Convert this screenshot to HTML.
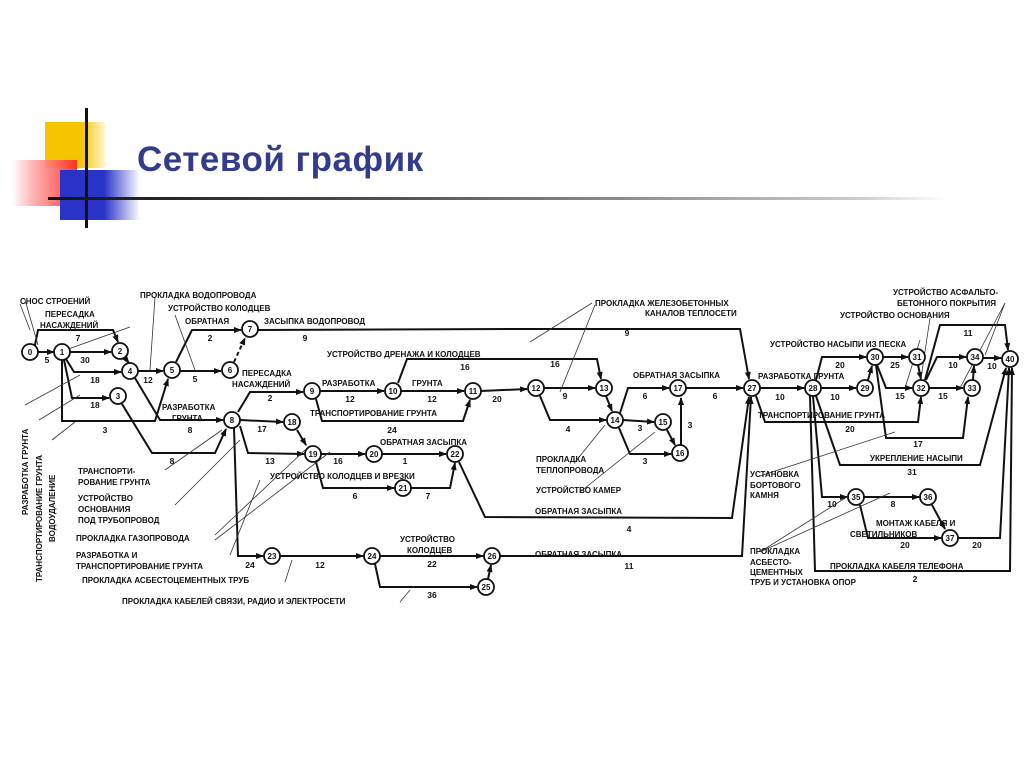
<!DOCTYPE html>
<html><head><meta charset="utf-8">
<style>
html,body{margin:0;padding:0;background:#fff;}
body{width:1024px;height:767px;position:relative;overflow:hidden;font-family:"Liberation Sans","DejaVu Sans",sans-serif;}
.t{position:absolute;left:137px;top:140px;font-size:35px;font-weight:bold;color:#333c8c;letter-spacing:0.5px;}
svg text{font-family:"Liberation Sans","DejaVu Sans",sans-serif;font-weight:bold;fill:#111;}
</style></head><body>
<div style="position:absolute;left:45px;top:122px;width:60px;height:46px;background:linear-gradient(to right,#f6c400 60%,#fff7d0);"></div>
<div style="position:absolute;left:12px;top:160px;width:65px;height:46px;background:linear-gradient(to right,#fff 0%,#ffb0b0 30%,#f22 100%);opacity:0.9;"></div>
<div style="position:absolute;left:60px;top:170px;width:80px;height:50px;background:linear-gradient(to right,#2a33c8 55%,#fff);"></div>
<div style="position:absolute;left:85px;top:108px;width:3px;height:120px;background:#111;"></div>
<div style="position:absolute;left:48px;top:197px;width:900px;height:3px;background:linear-gradient(to right,#111,#555 40%,#ccc 90%,#fff);"></div>
<div class="t">Сетевой график</div>

<svg width="1024" height="767" style="position:absolute;left:0;top:0" xmlns="http://www.w3.org/2000/svg">
<defs><marker id="a" markerWidth="8" markerHeight="8" refX="7" refY="4" orient="auto" markerUnits="userSpaceOnUse"><path d="M0,1 L8,4 L0,7z" fill="#111"/></marker></defs>
<g fill="none" stroke="#111" stroke-width="2" marker-end="url(#a)">
<path d="M38,352 L54,352"/>
<path d="M35,345 L38,330 L113,330 L118,342"/>
<path d="M70,352 L111,352"/>
<path d="M66,359 L74,372 L121,372"/>
<path d="M64,360 L72,398 L109,398"/>
<path d="M62,360 L62,421 L155,421 L168,379"/>
<path d="M125,358 L129,363"/>
<path d="M138,371 L163,371"/>
<path d="M135,378 L160,420 L223,420"/>
<path d="M122,404 L152,453 L215,453 L226,429"/>
<path d="M176,362 L192,330 L241,330"/>
<path d="M180,371 L221,371"/>
<path d="M234,362 L245,338" stroke-dasharray="4,3"/>
<path d="M258,330 L515,329 L740,329 L749,379"/>
<path d="M238,412 L250,392 L303,392"/>
<path d="M320,391 L384,391"/>
<path d="M401,391 L464,391"/>
<path d="M316,399 L322,421 L463,421 L470,400"/>
<path d="M398,383 L407,359 L597,359 L601,379"/>
<path d="M481,391 L527,389"/>
<path d="M544,388 L595,388"/>
<path d="M540,396 L550,420 L606,420"/>
<path d="M606,396 L612,411"/>
<path d="M620,413 L628,388 L669,388"/>
<path d="M623,420 L654,422"/>
<path d="M619,428 L630,454 L671,454"/>
<path d="M667,430 L675,445"/>
<path d="M681,445 L681,398"/>
<path d="M686,388 L743,388"/>
<path d="M459,462 L485,517 L732,518 L749,397"/>
<path d="M500,556 L742,556 L751,397"/>
<path d="M240,420 L283,422"/>
<path d="M297,430 L306,445"/>
<path d="M240,426 L248,453 L304,454"/>
<path d="M321,454 L365,454"/>
<path d="M382,454 L446,454"/>
<path d="M316,462 L323,488 L394,488"/>
<path d="M411,488 L450,488 L455,463"/>
<path d="M234,428 L238,556 L263,556"/>
<path d="M280,556 L363,556"/>
<path d="M380,556 L483,556"/>
<path d="M375,564 L380,587 L477,587"/>
<path d="M488,579 L491,565"/>
<path d="M760,388 L804,388"/>
<path d="M821,388 L856,388"/>
<path d="M816,380 L822,357 L866,357"/>
<path d="M868,380 L872,366"/>
<path d="M883,357 L908,357"/>
<path d="M877,365 L886,388 L912,388"/>
<path d="M918,365 L921,379"/>
<path d="M926,380 L937,357 L966,357"/>
<path d="M929,388 L963,388"/>
<path d="M973,380 L974,366"/>
<path d="M983,358 L1001,358"/>
<path d="M925,380 L940,325 L1005,325 L1008,350"/>
<path d="M756,396 L765,422 L918,422 L921,397"/>
<path d="M876,365 L886,438 L963,438 L968,397"/>
<path d="M816,396 L840,465 L980,465 L1006,368"/>
<path d="M813,396 L822,497 L847,497"/>
<path d="M864,497 L919,497"/>
<path d="M860,505 L868,538 L941,538"/>
<path d="M932,505 L945,529"/>
<path d="M958,538 L1000,538 L1009,368"/>
<path d="M810,396 L815,571 L1010,571 L1012,368"/>
</g>
<g fill="none" stroke="#333" stroke-width="0.8">
<path d="M25,300 L38,345 M20,304 L30,330 M130,327 L60,352"/>
<path d="M155,297 L150,370 M175,315 L195,370"/>
<path d="M25,405 L80,375 M39,420 L80,395 M52,440 L75,422"/>
<path d="M165,470 L222,430 M175,505 L240,440 M215,535 L305,450 M215,540 L330,452 M230,555 L260,480"/>
<path d="M285,582 L292,560 M400,602 L410,590"/>
<path d="M592,303 L530,342 M595,305 L560,392 M575,462 L605,425 M580,492 L655,432"/>
<path d="M760,476 L895,432 M760,552 L850,495 M760,552 L890,493"/>
<path d="M920,340 L905,388 M930,318 L920,385 M1005,303 L960,388 M1005,303 L985,355"/>
</g>
<g fill="#fff" stroke="#111" stroke-width="1.8">
<circle cx="30" cy="352" r="8"/><circle cx="62" cy="352" r="8"/><circle cx="120" cy="351" r="8"/>
<circle cx="130" cy="371" r="8"/><circle cx="118" cy="396" r="8"/><circle cx="172" cy="370" r="8"/>
<circle cx="250" cy="329" r="8"/><circle cx="230" cy="370" r="8"/><circle cx="232" cy="420" r="8"/>
<circle cx="312" cy="391" r="8"/><circle cx="393" cy="391" r="8"/><circle cx="473" cy="391" r="8"/>
<circle cx="292" cy="422" r="8"/><circle cx="313" cy="454" r="8"/><circle cx="374" cy="454" r="8"/>
<circle cx="455" cy="454" r="8"/><circle cx="403" cy="488" r="8"/><circle cx="272" cy="556" r="8"/>
<circle cx="372" cy="556" r="8"/><circle cx="492" cy="556" r="8"/><circle cx="486" cy="587" r="8"/>
<circle cx="536" cy="388" r="8"/><circle cx="604" cy="388" r="8"/><circle cx="615" cy="420" r="8"/>
<circle cx="663" cy="422" r="8"/><circle cx="680" cy="453" r="8"/><circle cx="678" cy="388" r="8"/>
<circle cx="752" cy="388" r="8"/><circle cx="813" cy="388" r="8"/><circle cx="865" cy="388" r="8"/>
<circle cx="875" cy="357" r="8"/><circle cx="917" cy="357" r="8"/><circle cx="921" cy="388" r="8"/>
<circle cx="972" cy="388" r="8"/><circle cx="975" cy="357" r="8"/><circle cx="1010" cy="359" r="8"/>
<circle cx="856" cy="497" r="8"/><circle cx="928" cy="497" r="8"/><circle cx="950" cy="538" r="8"/>
</g>
<g font-size="8" text-anchor="middle">
<text x="30" y="355">0</text><text x="62" y="355">1</text><text x="120" y="354">2</text><text x="130" y="374">4</text><text x="118" y="399">3</text><text x="172" y="373">5</text><text x="250" y="332">7</text><text x="230" y="373">6</text><text x="232" y="423">8</text><text x="312" y="394">9</text><text x="393" y="394">10</text><text x="473" y="394">11</text><text x="292" y="425">18</text><text x="313" y="457">19</text><text x="374" y="457">20</text><text x="455" y="457">22</text><text x="403" y="491">21</text><text x="272" y="559">23</text><text x="372" y="559">24</text><text x="492" y="559">26</text><text x="486" y="590">25</text><text x="536" y="391">12</text><text x="604" y="391">13</text><text x="615" y="423">14</text><text x="663" y="425">15</text><text x="680" y="456">16</text><text x="678" y="391">17</text><text x="752" y="391">27</text><text x="813" y="391">28</text><text x="865" y="391">29</text><text x="875" y="360">30</text><text x="917" y="360">31</text><text x="921" y="391">32</text><text x="972" y="391">33</text><text x="975" y="360">34</text><text x="1010" y="362">40</text><text x="856" y="500">35</text><text x="928" y="500">36</text><text x="950" y="541">37</text>
</g>
<g font-size="8.5" text-anchor="middle">
<text x="47" y="363">5</text><text x="85" y="363">30</text><text x="78" y="341">7</text><text x="95" y="383">18</text><text x="95" y="408">18</text><text x="105" y="433">3</text><text x="148" y="383">12</text><text x="190" y="433">8</text><text x="172" y="464">8</text><text x="210" y="341">2</text><text x="195" y="382">5</text><text x="305" y="341">9</text><text x="627" y="336">9</text><text x="270" y="401">2</text><text x="350" y="402">12</text><text x="432" y="402">12</text><text x="392" y="433">24</text><text x="465" y="370">16</text><text x="555" y="367">16</text><text x="497" y="402">20</text><text x="565" y="399">9</text><text x="568" y="432">4</text><text x="645" y="399">6</text><text x="640" y="431">3</text><text x="645" y="464">3</text><text x="690" y="428">3</text><text x="715" y="399">6</text><text x="629" y="532">4</text><text x="629" y="569">11</text><text x="262" y="432">17</text><text x="270" y="464">13</text><text x="338" y="464">16</text><text x="405" y="464">1</text><text x="355" y="499">6</text><text x="428" y="499">7</text><text x="250" y="568">24</text><text x="320" y="568">12</text><text x="432" y="567">22</text><text x="432" y="598">36</text><text x="780" y="400">10</text><text x="835" y="400">10</text><text x="840" y="368">20</text><text x="895" y="368">25</text><text x="900" y="399">15</text><text x="953" y="368">10</text><text x="943" y="399">15</text><text x="992" y="369">10</text><text x="968" y="336">11</text><text x="850" y="432">20</text><text x="918" y="447">17</text><text x="912" y="475">31</text><text x="832" y="507">10</text><text x="893" y="507">8</text><text x="905" y="548">20</text><text x="977" y="548">20</text><text x="915" y="582">2</text>
</g>
<g font-size="8">
<text x="20" y="304">СНОС СТРОЕНИЙ</text>
<text x="45" y="317">ПЕРЕСАДКА</text><text x="40" y="328">НАСАЖДЕНИЙ</text>
<text x="140" y="298">ПРОКЛАДКА ВОДОПРОВОДА</text>
<text x="168" y="311">УСТРОЙСТВО КОЛОДЦЕВ</text>
<text x="185" y="324">ОБРАТНАЯ</text><text x="264" y="324">ЗАСЫПКА ВОДОПРОВОД</text>
<text x="327" y="357">УСТРОЙСТВО ДРЕНАЖА И КОЛОДЦЕВ</text>
<text x="242" y="376">ПЕРЕСАДКА</text><text x="232" y="387">НАСАЖДЕНИЙ</text>
<text x="322" y="386">РАЗРАБОТКА</text><text x="412" y="386">ГРУНТА</text>
<text x="310" y="416">ТРАНСПОРТИРОВАНИЕ ГРУНТА</text>
<text x="162" y="410">РАЗРАБОТКА</text><text x="172" y="421">ГРУНТА</text>
<text x="380" y="445">ОБРАТНАЯ ЗАСЫПКА</text>
<text x="270" y="479">УСТРОЙСТВО КОЛОДЦЕВ И ВРЕЗКИ</text>
<text x="78" y="474">ТРАНСПОРТИ-</text><text x="78" y="485">РОВАНИЕ ГРУНТА</text>
<text x="78" y="501">УСТРОЙСТВО</text><text x="78" y="512">ОСНОВАНИЯ</text><text x="78" y="523">ПОД ТРУБОПРОВОД</text>
<text x="76" y="541">ПРОКЛАДКА ГАЗОПРОВОДА</text>
<text x="76" y="558">РАЗРАБОТКА И</text><text x="76" y="569">ТРАНСПОРТИРОВАНИЕ ГРУНТА</text>
<text x="82" y="583">ПРОКЛАДКА АСБЕСТОЦЕМЕНТНЫХ ТРУБ</text>
<text x="122" y="604">ПРОКЛАДКА КАБЕЛЕЙ СВЯЗИ, РАДИО И ЭЛЕКТРОСЕТИ</text>
<text x="400" y="542">УСТРОЙСТВО</text><text x="407" y="553">КОЛОДЦЕВ</text>
<text transform="translate(28,515) rotate(-90)">РАЗРАБОТКА ГРУНТА</text>
<text transform="translate(42,582) rotate(-90)">ТРАНСПОРТИРОВАНИЕ ГРУНТА</text>
<text transform="translate(55,542) rotate(-90)">ВОДОУДАЛЕНИЕ</text>
<text x="595" y="306">ПРОКЛАДКА ЖЕЛЕЗОБЕТОННЫХ</text><text x="645" y="316">КАНАЛОВ ТЕПЛОСЕТИ</text>
<text x="633" y="378">ОБРАТНАЯ ЗАСЫПКА</text>
<text x="758" y="379">РАЗРАБОТКА ГРУНТА</text>
<text x="770" y="347">УСТРОЙСТВО НАСЫПИ ИЗ ПЕСКА</text>
<text x="893" y="295">УСТРОЙСТВО АСФАЛЬТО-</text><text x="897" y="306">БЕТОННОГО ПОКРЫТИЯ</text>
<text x="840" y="318">УСТРОЙСТВО ОСНОВАНИЯ</text>
<text x="758" y="418">ТРАНСПОРТИРОВАНИЕ ГРУНТА</text>
<text x="870" y="461">УКРЕПЛЕНИЕ НАСЫПИ</text>
<text x="536" y="462">ПРОКЛАДКА</text><text x="536" y="473">ТЕПЛОПРОВОДА</text>
<text x="536" y="493">УСТРОЙСТВО КАМЕР</text>
<text x="535" y="514">ОБРАТНАЯ ЗАСЫПКА</text>
<text x="535" y="557">ОБРАТНАЯ ЗАСЫПКА</text>
<text x="750" y="477">УСТАНОВКА</text><text x="750" y="488">БОРТОВОГО</text><text x="750" y="498">КАМНЯ</text>
<text x="876" y="526">МОНТАЖ КАБЕЛЯ  И</text><text x="850" y="537">СВЕТИЛЬНИКОВ</text>
<text x="750" y="554">ПРОКЛАДКА</text><text x="750" y="565">АСБЕСТО-</text><text x="750" y="575">ЦЕМЕНТНЫХ</text><text x="750" y="585">ТРУБ И УСТАНОВКА ОПОР</text>
<text x="830" y="569">ПРОКЛАДКА КАБЕЛЯ ТЕЛЕФОНА</text>
</g>
</svg>
</body></html>
